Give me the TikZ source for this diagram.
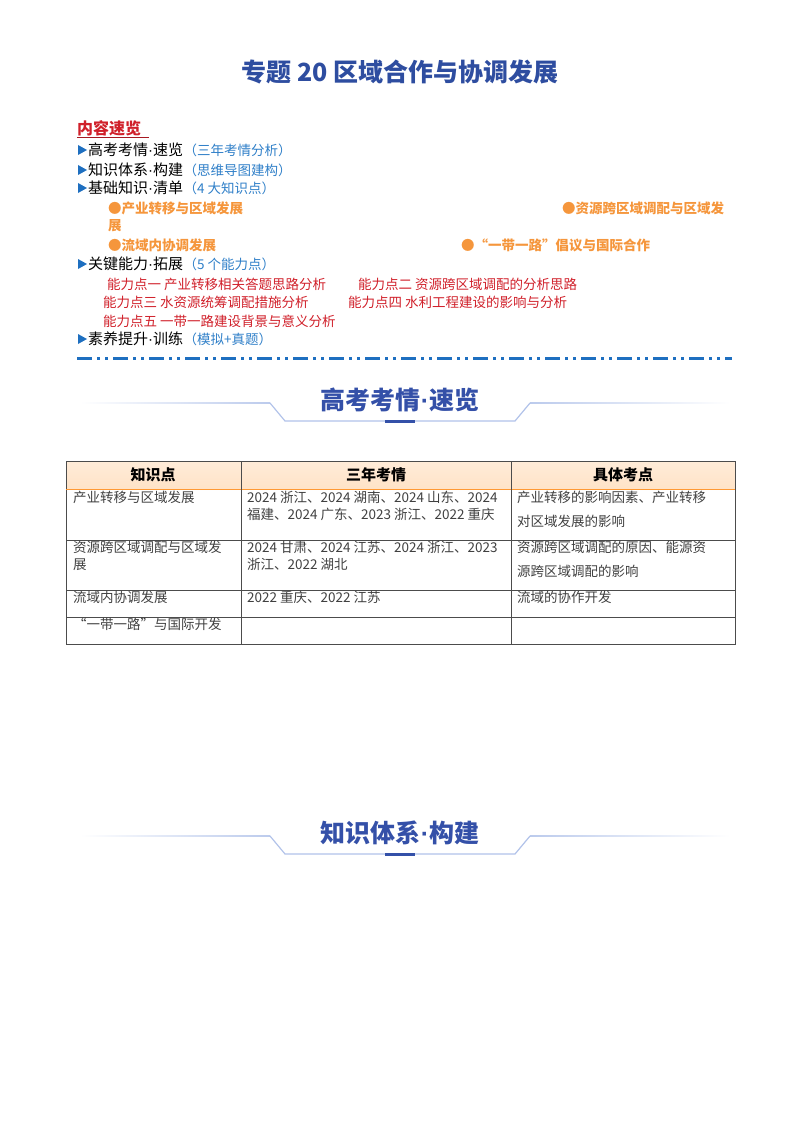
\documentclass[tikz,border=0pt]{standalone}
\usepackage{fontspec}
\setmainfont{Noto Sans CJK SC}
\newfontfamily\latf{Liberation Sans}
\newcommand{\dotc}{{\latf\textperiodcentered}}
\begin{document}
\begin{tikzpicture}[x=1pt,y=-1pt,
  every node/.style={inner sep=0pt,anchor=west},
  ln/.style={font=\fontsize{15}{15}\selectfont},
  sub/.style={font=\fontsize{13.5}{14}\selectfont,text=blueA},
  org/.style={font=\bfseries\fontsize{13.5}{14}\selectfont,text=orangeA},
  rd/.style={font=\fontsize{13.5}{14}\selectfont,text=redA},
  tb/.style={font=\fontsize{13.5}{17}\selectfont,text=black!75,anchor=north west,align=left},
  th/.style={font=\bfseries\fontsize{15}{15}\selectfont,anchor=center},
  ban/.style={font=\bfseries\fontsize{25}{25}\selectfont,text=bannerblue,anchor=center},
  bl/.style={draw=lineblue!70,line width=1.2pt}]
\definecolor{blueA}{HTML}{2F7FC8}
\definecolor{orangeA}{HTML}{F5963C}
\definecolor{redA}{HTML}{D0202A}
\definecolor{titleblue}{HTML}{2E4DA0}
\definecolor{bannerblue}{HTML}{3450A8}
\definecolor{lineblue}{HTML}{8FA8E0}
\definecolor{tri}{HTML}{1E6FC0}
\useasboundingbox (0,0) rectangle (800,1134);
\node[anchor=center,font=\bfseries\fontsize{25}{25}\selectfont,text=titleblue] (title) at (400,72) {专题 20 区域合作与协调发展};
\node[font=\bfseries\fontsize{16}{16}\selectfont,text=redA] (ov) at (77,128) {内容速览};
\draw[redA!80!black,line width=1pt] (ov.south west)++(0,2) -- ++(72,0);
\foreach \y/\a/\b/\c [count=\i] in {150/高考考情/速览/（三年考情分析）,170/知识体系/构建/（思维导图建构）,188/基础知识/清单/（4 大知识点）,264/关键能力/拓展/（5 个能力点）,339/素养提升/训练/（模拟+真题）}{
  \node[ln] (m\i) at (88,\y) {\a\dotc\b};
  \node[sub] (s\i) at (m\i.east) {\c};
  \fill[tri] (78,\y-5) -- (87,\y) -- (78,\y+5) -- cycle;
}
\node[org] (o1) at (108,208) {●产业转移与区域发展};
\node[org] (o2) at (562,208) {●资源跨区域调配与区域发};
\node[org] (o3) at (108,226) {展};
\node[org] (o4) at (108,245) {●流域内协调发展};
\node[org] (o5) at (461,245) {●“一带一路”倡议与国际合作};
\node[rd] (r1) at (107,284) {能力点一 产业转移相关答题思路分析};
\node[rd] (r2) at (358,284) {能力点二 资源跨区域调配的分析思路};
\node[rd] (r3) at (103,302) {能力点三 水资源统筹调配措施分析};
\node[rd] (r4) at (348,302) {能力点四 水利工程建设的影响与分析};
\node[rd] (r5) at (103,321) {能力点五 一带一路建设背景与意义分析};
\draw[tri,line width=3pt,dash pattern=on 15pt off 5pt on 3pt off 5pt on 3pt off 5pt] (77,358) -- (732,358);
% banners
\foreach \yy/\ta/\tb [count=\k] in {400/高考考情/速览,833/知识体系/构建}{
  \node[ban] (b\k) at (400,\yy) {\ta\dotc\tb};
  \shade[left color=white,right color=lineblue!60] (80,\yy+2.4) rectangle (270,\yy+3.6);
  \shade[right color=white,left color=lineblue!60] (530,\yy+2.4) rectangle (730,\yy+3.6);
  \draw[bl] (270,\yy+3) -- (285,\yy+21) -- (515,\yy+21) -- (530,\yy+3);
  \fill[bannerblue] (385,\yy+19.5) rectangle (415,\yy+22.5);
}
% table
\shade[top color=orange!15,bottom color=orange!22] (66,461) rectangle (735,489);
\draw[black!70,line width=0.8pt] (66,461) rectangle (735,644);
\foreach \y in {540,590,617} \draw[black!70,line width=0.8pt] (66,\y) -- (735,\y);
\draw[orange!80,line width=1pt] (66,489) -- (735,489);
\foreach \x in {241,511} \draw[black!70,line width=0.8pt] (\x,461) -- (\x,644);
\node[th] (h1) at (153,475) {知识点};
\node[th] (h2) at (376,475) {三年考情};
\node[th] (h3) at (623,475) {具体考点};
\node[tb] (c11) at (73,491) {产业转移与区域发展};
\node[tb] (c12) at (247,491) {2024 浙江、2024 湖南、2024 山东、2024\\福建、2024 广东、2023 浙江、2022 重庆};
\node[tb,font=\fontsize{13.5}{24}\selectfont] (c13) at (517,491) {产业转移的影响因素、产业转移\\对区域发展的影响};
\node[tb] (c21) at (73,541) {资源跨区域调配与区域发\\展};
\node[tb] (c22) at (247,541) {2024 甘肃、2024 江苏、2024 浙江、2023\\浙江、2022 湖北};
\node[tb,font=\fontsize{13.5}{24}\selectfont] (c23) at (517,541) {资源跨区域调配的原因、能源资\\源跨区域调配的影响};
\node[tb] (c31) at (73,591) {流域内协调发展};
\node[tb] (c32) at (247,591) {2022 重庆、2022 江苏};
\node[tb] (c33) at (517,591) {流域的协作开发};
\node[tb] (c41) at (73,618) {“一带一路”与国际开发};
\end{tikzpicture}
\end{document}
